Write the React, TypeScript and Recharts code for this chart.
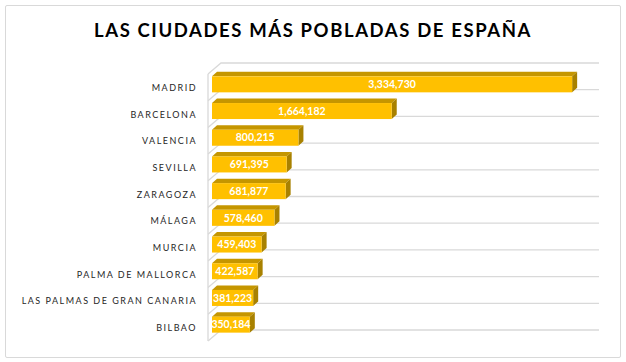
import React from "react"
import { BarChart, Bar, XAxis, YAxis, CartesianGrid, LabelList } from "recharts"

const cities = [
  "MADRID",
  "BARCELONA",
  "VALENCIA",
  "SEVILLA",
  "ZARAGOZA",
  "MÁLAGA",
  "MURCIA",
  "PALMA DE MALLORCA",
  "LAS PALMAS DE GRAN CANARIA",
  "BILBAO",
]
const population = [3334730, 1664182, 800215, 691395, 681877, 578460, 459403, 422587, 381223, 350184]
const valueDomain = [0, 3500000]

const data = cities.map((city, i) => ({ city, population: population[i] }))

// depth of the fake 3D effect
const DX = 5
const DY = 4.5
const FLOOR_FRONT = { dx: -4, dy: 3 }
const FLOOR_BACK = { dx: 9, dy: -8 }

function Bar3D(props: any) {
  const { x, y, width, height } = props
  if (width <= 0) return null
  return (
    <g>
      <polygon
        points={`${x},${y} ${x + DX},${y - DY} ${x + width + DX},${y - DY} ${x + width},${y}`}
        fill="#C59600"
      />
      <polygon
        points={`${x + width},${y} ${x + width + DX},${y - DY} ${x + width + DX},${y + height - DY} ${x + width},${y + height}`}
        fill="#A88100"
      />
      <rect x={x} y={y} width={width} height={height} fill="#FFC000" />
    </g>
  )
}

function CityTick(props: any) {
  const { x, y, payload } = props
  return (
    <text
      x={x}
      y={y}
      dy={6.5}
      textAnchor="end"
      fill="#262626"
      fontSize={9}
      fontFamily="Lato, 'Open Sans', sans-serif"
      letterSpacing={1.5}
    >
      {payload.value}
    </text>
  )
}

function floorLine(props: any) {
  const { x1, x2, y1, index } = props
  const fx = x1 + FLOOR_FRONT.dx
  const fy = y1 + FLOOR_FRONT.dy
  const bx = x1 + FLOOR_BACK.dx
  const by = y1 + FLOOR_BACK.dy
  return (
    <path
      key={`h-${index}`}
      d={`M${fx},${fy} L${bx},${by} L${x2 + FLOOR_BACK.dx},${by}`}
      stroke="#d9d9d9"
      strokeWidth={1.3}
      fill="none"
    />
  )
}

function wallLine(props: any) {
  const { x1, y1, y2, index } = props
  const x = x1 + FLOOR_FRONT.dx
  return (
    <path
      key={`v-${index}`}
      d={`M${x},${y1 + FLOOR_FRONT.dy} L${x},${y2 + FLOOR_FRONT.dy}`}
      stroke="#d9d9d9"
      strokeWidth={1.3}
      fill="none"
    />
  )
}

export default function App() {
  return (
    <div style={{ position: "fixed", left: 0, top: 0, width: 626, height: 362, background: "#fff" }}>
      <div
        style={{
          position: "absolute",
          left: 5,
          top: 5,
          width: 614,
          height: 351,
          border: "1px solid #d9d9d9",
          borderRadius: 2,
        }}
      />
      <div
        style={{
          position: "absolute",
          left: 0,
          top: 19,
          width: 626,
          textAlign: "center",
          fontFamily: "Lato, 'Open Sans', sans-serif",
          fontWeight: 700,
          fontSize: 18.5,
          letterSpacing: 1.6,
          color: "#000",
        }}
      >
        LAS CIUDADES MÁS POBLADAS DE ESPAÑA
      </div>
      <div style={{ position: "absolute", left: 0, top: 0 }}>
        <BarChart
          width={626}
          height={362}
          data={data}
          layout="vertical"
          margin={{ top: 71, right: 36, left: 0, bottom: 24 }}
          barCategoryGap="20%"
        >
          <CartesianGrid
            horizontal={floorLine}
            vertical={wallLine}
            horizontalCoordinatesGenerator={({ offset }: any) =>
              cities.map((_, i) => offset.top + (i * offset.height) / cities.length).concat(offset.top + offset.height)
            }
            verticalCoordinatesGenerator={({ offset }: any) => [offset.left]}
          />
          <XAxis type="number" domain={valueDomain} hide />
          <YAxis
            type="category"
            dataKey="city"
            width={212}
            axisLine={false}
            tickLine={false}
            tickSize={0}
            tickMargin={15}
            tick={<CityTick />}
            interval={0}
          />
          <Bar dataKey="population" shape={<Bar3D />} isAnimationActive={false}>
            <LabelList
              dataKey="population"
              position="center"
              formatter={(v: any) => Number(v).toLocaleString("en-US")}
              fill="#ffffff"
              fontSize={10.5}
              fontWeight={700}
              fontFamily="Lato, 'Open Sans', sans-serif"
            />
          </Bar>
        </BarChart>
      </div>
    </div>
  )
}
